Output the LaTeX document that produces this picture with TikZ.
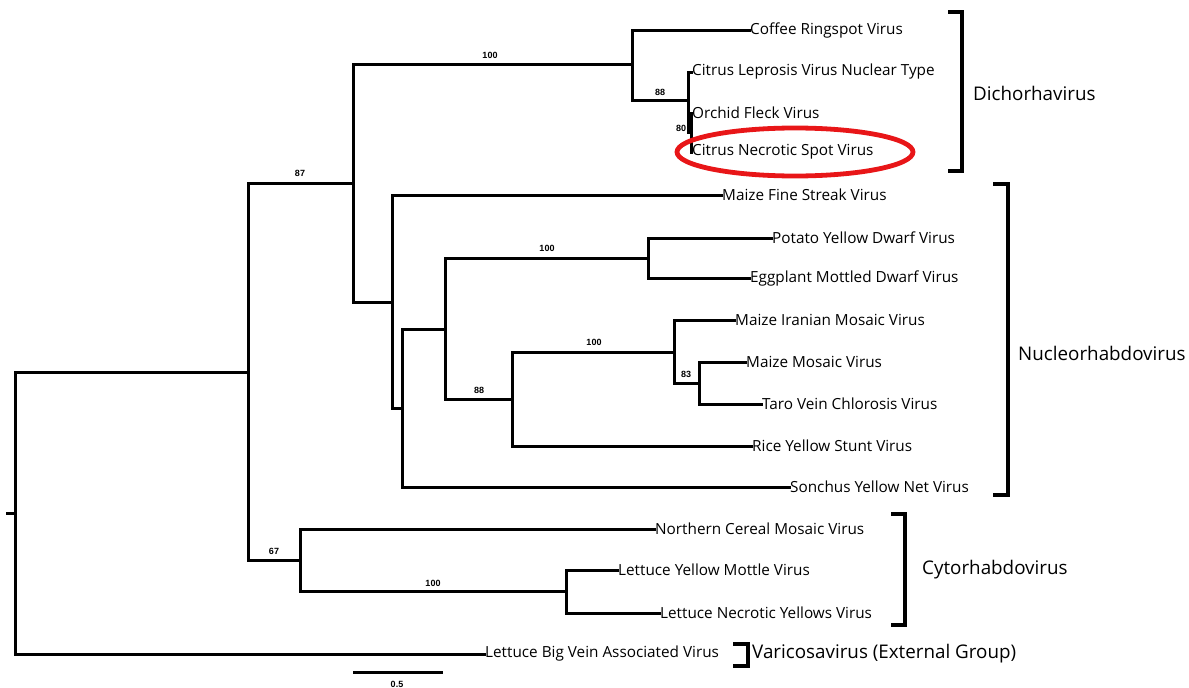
\documentclass[tikz,border=0pt]{standalone}
\usepackage{fontspec}
\setmainfont{Open Sans}
\newfontfamily\numfont{Liberation Sans}
\begin{document}
\begin{tikzpicture}[x=1pt,y=-1pt,
  branch/.style={line width=3pt,line cap=rect,line join=miter},
  tip/.style={anchor=west,inner sep=1pt,font=\fontsize{15.3}{17}\selectfont},
  boot/.style={inner sep=0pt,font=\numfont\bfseries\fontsize{9}{10}\selectfont},
  bracket/.style={line width=4.8pt,line join=miter},
  group/.style={anchor=west,inner sep=0pt,font=\fontsize{18.8}{21}\selectfont},
  mark ring/.style={draw={rgb,255:red,232;green,22;blue,24},line width=4.8pt}]
\useasboundingbox (0,0) rectangle (1189,688);

% internal nodes of the tree
\coordinate (R0) at (7,513);
\coordinate (R)  at (15,513);
\coordinate (A)  at (248,372);
\coordinate (B)  at (353,183);
\coordinate (Di) at (632,64);
\coordinate (D1) at (688,100);
\coordinate (D2) at (691,132);
\coordinate (Nu) at (392,302);
\coordinate (N2) at (402,408);
\coordinate (N3) at (445,329);
\coordinate (N4) at (648,258);
\coordinate (N5) at (512,399);
\coordinate (N6) at (674,352);
\coordinate (N7) at (699,383);
\coordinate (Cy) at (300,560);
\coordinate (C2) at (566,591);

% leaves
\node[tip] (coffee)  at (749,30)  {Coffee Ringspot Virus};
\node[tip] (clvn)    at (691,72)  {Citrus Leprosis Virus Nuclear Type};
\node[tip] (orchid)  at (691,113) {Orchid Fleck Virus};
\node[tip] (cnsv)    at (691,152) {Citrus Necrotic Spot Virus};
\node[tip] (mfsv)    at (721,195) {Maize Fine Streak Virus};
\node[tip] (pydv)    at (771,238) {Potato Yellow Dwarf Virus};
\node[tip] (emdv)    at (749,278) {Eggplant Mottled Dwarf Virus};
\node[tip] (mimv)    at (734,320) {Maize Iranian Mosaic Virus};
\node[tip] (mmv)     at (745,362) {Maize Mosaic Virus};
\node[tip] (tvcv)    at (761,404) {Taro Vein Chlorosis Virus};
\node[tip] (rysv)    at (751,446) {Rice Yellow Stunt Virus};
\node[tip] (synv)    at (789,487) {Sonchus Yellow Net Virus};
\node[tip] (ncmv)    at (654,529) {Northern Cereal Mosaic Virus};
\node[tip] (lymov)   at (617,570) {Lettuce Yellow Mottle Virus};
\node[tip] (lnyv)    at (659,613) {Lettuce Necrotic Yellows Virus};
\node[tip] (lbvav)   at (484,654) {Lettuce Big Vein Associated Virus};

% branches
\draw[branch] (R0) -- (R);
\draw[branch] (R) |- (A);
\draw[branch] (R) |- (lbvav.west);
\draw[branch] (A) |- (B);
\draw[branch] (A) |- (Cy);
\draw[branch] (B) |- (Di);
\draw[branch] (B) |- (Nu);
\draw[branch] (Di) |- (coffee.west);
\draw[branch] (Di) |- (D1);
\draw[branch] (D1) |- (clvn.west);
\draw[branch] (D1) |- (D2);
\draw[branch] (D2) |- (orchid.west);
\draw[branch] (D2) |- (cnsv.west);
\draw[branch] (Nu) |- (mfsv.west);
\draw[branch] (Nu) |- (N2);
\draw[branch] (N2) |- (N3);
\draw[branch] (N2) |- (synv.west);
\draw[branch] (N3) |- (N4);
\draw[branch] (N3) |- (N5);
\draw[branch] (N4) |- (pydv.west);
\draw[branch] (N4) |- (emdv.west);
\draw[branch] (N5) |- (N6);
\draw[branch] (N5) |- (rysv.west);
\draw[branch] (N6) |- (mimv.west);
\draw[branch] (N6) |- (N7);
\draw[branch] (N7) |- (mmv.west);
\draw[branch] (N7) |- (tvcv.west);
\draw[branch] (Cy) |- (ncmv.west);
\draw[branch] (Cy) |- (C2);
\draw[branch] (C2) |- (lymov.west);
\draw[branch] (C2) |- (lnyv.west);

% bootstrap support values
\node[boot] (b1)  at (490,55)  {100};
\node[boot] (b2)  at (660,92)  {88};
\node[boot] (b3)  at (681,128) {80};
\node[boot] (b4)  at (300,173) {87};
\node[boot] (b5)  at (547,248) {100};
\node[boot] (b6)  at (594,342) {100};
\node[boot] (b7)  at (479,390) {88};
\node[boot] (b8)  at (686,374) {83};
\node[boot] (b9)  at (274,551) {67};
\node[boot] (b10) at (433,583) {100};

% scale bar
\coordinate (s0) at (353,672);
\coordinate (s1) at (443,672);
\draw[branch,line cap=butt] (s0) -- (s1);
\node[boot] (slab) at (397,684) {0.5};

% highlighted species
\draw[mark ring] (795,152) ellipse [x radius=118, y radius=24];

% genus brackets
\draw[bracket] (948,12) -- (962,12) -- (962,171) -- (948,171);
\node[group] (dich) at (973,93) {Dichorhavirus};
\draw[bracket] (993,184) -- (1008,184) -- (1008,495) -- (993,495);
\node[group] (nucl) at (1018,353) {Nucleorhabdovirus};
\draw[bracket] (891,514) -- (905,514) -- (905,625) -- (891,625);
\node[group] (cyto) at (922,570) {Cytorhabdovirus};
\draw[bracket] (733,644) -- (748,644) -- (748,666) -- (733,666);
\node[group] (vari) at (752,654) {Varicosavirus (External Group)};
\end{tikzpicture}
\end{document}
